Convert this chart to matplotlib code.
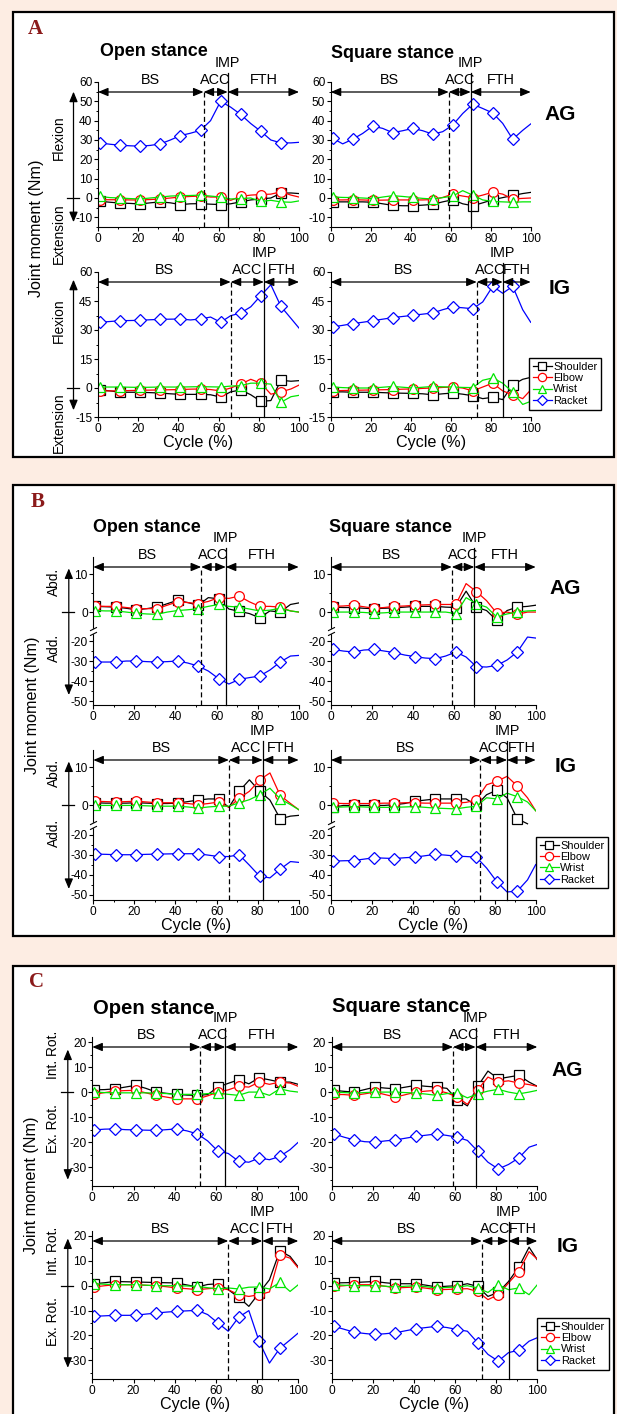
import numpy as np
import matplotlib
matplotlib.use("Agg")
import matplotlib.pyplot as plt
from matplotlib import font_manager as fm
from matplotlib import transforms
from matplotlib.patches import Rectangle
from matplotlib.path import Path

# fonts: a narrow sans looks closest to the original
_names = {f.name for f in fm.fontManager.ttflist}
if "Liberation Sans Narrow" in _names:
    SANS, FS = "Liberation Sans Narrow", 1.0
else:
    SANS, FS = "Liberation Sans", 0.86
plt.rcParams["font.family"] = [SANS, "DejaVu Sans"]
plt.rcParams["axes.unicode_minus"] = False

# ---------------- data (cycle %, joint moment Nm) ----------------
X = [1, 6, 11, 16, 21, 26, 31, 36, 41, 46, 51, 56, 61, 66, 71, 76, 81, 86, 91, 96, 100]
NAMES = ["Shoulder", "Elbow", "Wrist", "Racket"]

# A : flexion / extension
a_open_ag_sho = [-1.7, -2.2, -2.6, -2.8, -3.1, -2.5, -2.0, -2.5, -3.4, -3.0, -2.9, -3.2, -3.4, -3.0, -2.0, -1.0, -0.5, 0.0, 2.5, 2.6, 2.3]
a_open_ag_elb = [-0.9, -0.9, -0.9, -1.0, -1.0, -0.8, -0.5, 0.0, 0.5, 0.8, 1.0, 0.5, 0.5, -1.2, 0.8, 1.5, 1.8, 2.0, 3.2, 1.5, 0.5]
a_open_ag_wri = [0.8, 0.2, 0.0, -0.3, -0.5, 0.0, 0.5, 1.0, 1.2, 1.3, 1.5, 1.0, 0.5, -0.5, -0.3, 0.0, -1.8, -1.2, -2.0, -2.2, -1.5]
a_open_ag_rac = [28.5, 27.8, 27.3, 27.0, 26.8, 27.2, 28.0, 30.0, 32.3, 33.5, 35.0, 40.0, 50.0, 47.0, 43.2, 38.5, 34.5, 30.0, 28.5, 28.5, 28.8]

a_sq_ag_sho = [-2.0, -2.0, -2.0, -2.0, -2.2, -3.0, -3.8, -4.0, -4.0, -3.7, -3.3, -2.0, -0.9, -3.0, -4.0, -2.5, -0.9, 0.2, 1.3, 2.3, 2.9]
a_sq_ag_elb = [-1.0, -1.0, -0.9, -1.0, -1.2, -1.1, -1.0, -1.0, -1.0, -1.0, -0.8, 0.3, 2.0, 1.0, 0.2, 1.5, 3.0, 2.0, -0.5, -0.2, 0.0]
a_sq_ag_wri = [0.5, 0.3, 0.2, 0.0, -0.3, 0.5, 1.2, 0.8, 0.3, -0.2, -0.5, 0.2, 1.0, 3.8, 1.5, -1.0, -1.8, -2.0, -2.2, -2.0, -2.0]
a_sq_ag_rac = [30.9, 28.0, 30.4, 33.4, 37.2, 36.0, 33.8, 34.8, 36.0, 34.8, 33.0, 34.3, 37.7, 43.7, 48.5, 46.3, 44.0, 38.6, 30.4, 35.0, 38.3]

a_open_ig_sho = [-1.0, -1.5, -2.2, -2.2, -2.2, -2.4, -2.6, -3.0, -3.3, -3.3, -3.3, -3.5, -4.7, -2.0, -1.0, -3.5, -6.9, -6.5, 4.0, 3.5, 3.8]
a_open_ig_elb = [-1.5, -1.5, -1.5, -1.3, -1.2, -1.1, -1.0, -0.9, -0.8, -0.6, -0.5, -0.8, -1.5, 0.0, 2.0, 4.5, 2.5, -3.2, -2.0, -0.5, 1.5]
a_open_ig_wri = [0.5, 0.5, 0.5, 0.4, 0.3, 0.4, 0.5, 0.5, 0.5, 0.6, 0.7, 0.6, 0.5, 1.0, 1.2, 2.5, 2.5, 2.0, -7.4, -4.5, -3.8]
a_open_ig_rac = [34.0, 34.4, 34.8, 34.9, 35.0, 35.3, 35.5, 35.6, 35.7, 35.2, 35.7, 36.7, 34.0, 37.4, 38.8, 42.0, 47.8, 53.4, 42.2, 36.0, 31.0]

a_sq_ig_sho = [-2.0, -2.0, -2.2, -2.2, -2.2, -2.4, -2.6, -2.7, -2.8, -3.0, -3.5, -3.0, -2.6, -3.2, -4.0, -5.5, -4.8, -6.0, 1.7, 4.5, 5.5]
a_sq_ig_elb = [-1.5, -1.3, -1.2, -1.1, -1.0, -0.9, -0.8, -0.6, -0.5, -0.2, 0.0, 0.3, 0.5, 0.0, -1.5, 0.5, 2.5, -1.5, -3.5, -5.5, -1.0]
a_sq_ig_wri = [0.5, 0.2, 0.0, 0.0, 0.0, 0.4, 0.8, 0.4, 0.0, 0.4, 0.8, 0.6, 0.5, 0.3, 0.2, 4.0, 5.2, 2.5, -2.2, -8.5, -6.9]
a_sq_ig_rac = [31.6, 32.4, 33.3, 34.0, 34.8, 35.6, 36.4, 37.0, 37.6, 38.2, 38.8, 40.5, 41.9, 41.5, 41.0, 44.5, 52.6, 49.0, 52.6, 40.5, 34.0]

# B : abduction / adduction
b_open_ag_sho = [1.5, 1.4, 1.3, 1.0, 0.6, 0.9, 1.3, 2.2, 3.1, 2.5, 1.8, 3.8, 3.5, 0.8, 0.2, -0.4, -1.5, 0.3, 0.0, 2.0, 2.4]
b_open_ag_elb = [1.6, 1.5, 1.5, 1.2, 0.9, 0.9, 0.9, 1.8, 2.7, 2.5, 2.2, 2.8, 3.8, 3.6, 4.2, 2.7, 1.5, 1.5, 1.3, 0.3, 0.0]
b_open_ag_wri = [0.4, 0.3, 0.3, 0.0, -0.3, -0.5, -0.6, 0.0, 0.4, 0.6, 0.9, 1.5, 2.0, 1.5, 1.3, 0.8, 0.3, 0.5, 1.0, 0.3, 0.0]
b_open_ag_rac = [-30.5, -30.5, -30.5, -30.0, -30.0, -30.3, -30.5, -30.3, -30.0, -31.0, -32.5, -35.0, -38.8, -41.5, -39.2, -38.3, -37.5, -34.5, -30.5, -27.5, -27.2]

b_sq_ag_sho = [1.3, 1.2, 1.2, 1.0, 0.9, 1.0, 1.1, 1.3, 1.5, 1.5, 1.5, 1.3, 1.2, 5.5, 1.3, 0.4, -2.2, 0.4, 1.3, 1.5, 1.8]
b_sq_ag_elb = [1.5, 1.6, 1.8, 1.4, 1.0, 1.2, 1.5, 1.6, 1.8, 1.9, 2.0, 2.0, 2.0, 7.5, 5.4, 3.0, -0.3, 0.0, -0.6, 0.0, 0.0]
b_sq_ag_wri = [0.0, 0.0, 0.0, -0.1, -0.3, -0.2, 0.0, 0.0, 0.0, 0.0, 0.0, 0.0, -0.4, 3.8, 2.2, 1.3, -1.3, -0.5, 0.0, 0.3, 0.4]
b_sq_ag_rac = [-24.2, -25.0, -25.5, -24.5, -24.2, -25.0, -25.8, -27.0, -27.8, -28.5, -28.8, -27.5, -25.5, -28.0, -32.8, -33.0, -32.2, -29.5, -25.5, -18.0, -18.5]

b_open_ig_sho = [0.7, 0.6, 0.6, 0.6, 0.7, 0.6, 0.5, 0.5, 0.6, 1.0, 1.4, 1.7, 1.7, -0.5, 3.7, 6.7, 3.7, 1.4, -3.5, -2.8, -2.6]
b_open_ig_elb = [1.1, 1.0, 0.9, 1.0, 1.1, 0.9, 0.7, 0.7, 0.7, 0.5, 0.2, 0.5, 0.9, -0.5, 1.9, 3.7, 6.7, 8.5, 2.6, 0.5, -1.1]
b_open_ig_wri = [0.0, 0.0, 0.0, 0.0, 0.0, -0.1, -0.2, -0.2, -0.2, -0.4, -0.7, -0.4, -0.2, -0.2, 0.7, 1.5, 2.8, 4.5, 1.7, 0.2, -1.1]
b_open_ig_rac = [-29.7, -29.8, -30.0, -30.0, -30.0, -29.8, -29.7, -29.6, -29.5, -29.5, -29.5, -30.2, -30.9, -30.9, -30.0, -35.2, -40.7, -41.5, -37.2, -33.4, -33.8]

b_sq_ig_sho = [-0.5, 0.0, 0.0, 0.0, 0.0, 0.0, 0.2, 0.5, 1.1, 1.4, 1.7, 1.7, 1.7, 1.7, 0.0, 2.8, 4.0, 2.0, -3.5, -4.8]
b_sq_ig_elb = [0.6, 0.5, 0.5, 0.5, 0.5, 0.6, 0.6, 0.7, 0.7, 0.6, 0.6, 0.6, 0.6, 0.8, 1.4, 5.4, 6.3, 7.6, 5.1, 2.0, -1.4]
b_sq_ig_wri = [-0.5, -0.4, -0.3, -0.4, -0.5, -0.5, -0.5, -0.4, -0.3, -0.5, -0.7, -0.8, -0.9, -0.5, -0.2, 2.0, 1.7, 3.2, 2.3, 0.9, -1.4]
b_sq_ig_rac = [-33.2, -33.0, -32.9, -32.2, -31.5, -31.7, -31.9, -31.5, -31.2, -30.5, -29.8, -30.2, -30.7, -30.9, -31.2, -36.6, -43.4, -48.5, -48.1, -42.5, -34.9]

# C : internal / external rotation
c_open_ag_sho = [0.9, 1.0, 1.3, 2.0, 2.7, 1.5, 0.0, -0.5, -0.9, -1.2, -1.3, -1.0, 2.0, 3.5, 4.9, 3.3, 5.7, 4.9, 4.0, 4.0, 3.1]
c_open_ag_elb = [-0.9, -0.2, 0.4, 0.6, 0.7, -0.3, -1.3, -2.0, -2.7, -2.7, -2.7, -1.5, 0.0, 0.9, 2.3, 2.0, 4.0, 3.1, 4.0, 3.6, 2.3]
c_open_ag_wri = [0.0, -0.2, -0.3, -0.3, -0.3, -0.3, -0.4, -0.6, -0.9, -0.9, -0.9, -0.6, -0.4, -0.9, -1.3, 0.0, 0.0, -1.3, 1.3, 0.4, 0.0]
c_open_ag_rac = [-15.1, -14.8, -14.7, -15.0, -15.1, -15.2, -15.3, -15.0, -14.7, -15.5, -16.7, -19.5, -23.6, -24.5, -27.6, -28.0, -26.3, -27.0, -25.7, -23.0, -20.0]

c_sq_ag_sho = [0.7, 0.3, 0.0, 1.0, 2.0, 1.6, 1.3, 2.0, 2.7, 2.3, 2.0, 1.5, -3.0, -5.5, 2.3, 8.4, 5.3, 6.0, 6.7, 4.0, 2.3]
c_sq_ag_elb = [-0.9, -1.0, -1.3, -0.7, 0.0, -1.0, -2.0, -1.0, 0.0, 0.4, 0.7, -0.3, -2.0, -4.9, 0.9, 6.0, 4.0, 4.5, 3.6, 3.0, 2.3]
c_sq_ag_wri = [0.0, -0.2, -0.4, -0.2, 0.0, 0.0, 0.0, -0.2, -0.4, -0.8, -1.3, -0.6, -0.4, -2.3, -0.7, 0.4, 1.1, 0.0, -0.7, 0.0, 0.7]
c_sq_ag_rac = [-16.7, -18.0, -19.1, -19.8, -20.0, -19.5, -19.1, -18.4, -17.7, -17.2, -16.7, -17.3, -18.0, -19.3, -23.6, -28.0, -30.7, -28.9, -26.3, -22.0, -20.9]

c_open_ig_sho = [0.8, 1.2, 1.7, 1.6, 1.5, 1.4, 1.3, 1.2, 1.1, 0.3, -0.5, 0.5, 0.8, -1.6, -4.6, -8.3, -2.9, 2.4, 14.0, 11.8, 7.5]
c_open_ig_elb = [-0.5, 0.0, 0.4, 0.4, 0.4, 0.2, 0.0, -0.4, -0.9, -1.2, -1.6, -1.2, -0.9, -1.6, -3.6, -4.3, -3.6, -2.5, 12.4, 11.1, 7.1]
c_open_ig_wri = [0.8, 0.6, 0.4, 0.4, 0.4, 0.2, 0.0, 0.0, 0.0, -0.1, -0.3, -0.8, -1.3, -0.9, -1.3, -0.6, -0.5, -1.3, 1.3, -2.3, 0.4]
c_open_ig_rac = [-12.3, -12.1, -11.9, -11.9, -11.9, -11.4, -11.0, -10.6, -10.3, -10.1, -9.9, -11.6, -15.0, -18.3, -12.7, -10.0, -22.4, -31.1, -25.2, -21.8, -19.0]

c_sq_ig_sho = [1.1, 1.2, 1.3, 1.5, 1.7, 1.2, 0.8, 0.8, 0.8, 0.2, -0.5, -0.2, 0.0, 0.8, -0.3, -4.3, -2.7, 1.7, 7.5, 15.5, 10.4]
c_sq_ig_elb = [-0.3, 0.0, 0.4, 0.4, 0.4, -0.2, -0.9, -0.7, -0.5, -1.0, -1.6, -1.5, -1.3, -1.2, -2.3, -5.6, -3.6, 1.1, 5.7, 13.7, 10.7]
c_sq_ig_wri = [0.4, 0.2, 0.0, 0.0, 0.0, -0.2, -0.5, -0.2, 0.0, -0.4, -0.9, -0.7, -0.5, 0.0, -0.9, -2.7, 0.4, -1.6, -0.9, -3.6, 0.4]
c_sq_ig_rac = [-16.3, -17.5, -18.7, -19.2, -19.6, -19.3, -18.9, -18.1, -17.3, -16.8, -16.3, -16.8, -17.6, -18.3, -22.9, -27.6, -30.3, -26.9, -25.9, -22.3, -20.9]

# phase borders (end of BS, impact) for [row][col]
PHASES = [[(52.5, 64.5), (59, 70)], [(66, 82.5), (73, 86)]]

# ---------------- styling ----------------
BG = "#fdede3"
COLORS = ["#000000", "#ff0000", "#00e600", "#0000ff"]
MARKERS = ["s", "o", "^", "D"]
MSIZE = [6.5, 7, 7.5, 6.5]
MARK_IDX = list(range(0, 19, 2))   # markers at 1, 11, ..., 91 %

W, H = 617, 1414
fig = plt.figure(figsize=(W / 100, H / 100), dpi=100)
fig.patch.set_facecolor(BG)
# pixel coordinates (origin top-left) -> figure
PX = transforms.Affine2D().scale(1 / W, -1 / H).translate(0, 1) + fig.transFigure

# broken y axis for panel B
K_BRK = 2 / 3.8


def brk_fwd(y):
    y = np.asarray(y, dtype=float)
    out = np.where(y >= -5, y, np.where(y <= -15, -5 + (y + 15) * K_BRK, -5.0))
    return np.where(np.isnan(y), np.nan, out)


def brk_inv(t):
    t = np.asarray(t, dtype=float)
    return np.where(t >= -5, t, (t + 5) / K_BRK - 15)


BREAK_MARK = Path([(-1, -1.2), (1, -0.2), (-1, 0.2), (1, 1.2)],
                  [Path.MOVETO, Path.LINETO, Path.MOVETO, Path.LINETO])

PANELS = [
    dict(letter="A", rect=(13, 12, 613.5, 456.5), lpos=(35.5, 29), ylab=(37, 228),
         cols=[(98, 299), (330.7, 530.7)], rows=[(82, 227), (272, 417)],
         ylim=[(-15, 60), (-15, 60)],
         yticks=[list(range(-10, 61, 10)), list(range(-15, 61, 15))],
         yminor=[list(range(-15, 60, 10)), [-7.5, 7.5, 22.5, 37.5, 52.5]],
         arrows=[(55, -12.5), (56, -11.5)], dlab=("Flexion", "Extension"),
         dlab_y=[(31, -18.5), (35, -17.7)],
         titles=[(100, 52), (331, 53)], tsize=15,
         groups=[(560, 115), (559.5, 289)], legend=(529, 358), broken=False,
         data=[[[a_open_ag_sho, a_open_ag_elb, a_open_ag_wri, a_open_ag_rac],
                [a_sq_ag_sho, a_sq_ag_elb, a_sq_ag_wri, a_sq_ag_rac]],
               [[a_open_ig_sho, a_open_ig_elb, a_open_ig_wri, a_open_ig_rac],
                [a_sq_ig_sho, a_sq_ig_elb, a_sq_ig_wri, a_sq_ig_rac]]]),
    dict(letter="B", rect=(13, 485, 613.5, 936), lpos=(37.5, 502), ylab=(33, 705),
         cols=[(93.3, 298.7), (331, 535.7)], rows=[(557, 705), (750, 900)],
         ylim=[(-52, 14.5), (-52.5, 14.5)],
         yticks=[[-50, -40, -30, -20, 0, 10]] * 2,
         yminor=[[-45, -35, -25, 5]] * 2,
         arrows=[(11.5, -47), (11.5, -47)], dlab=("Abd.", "Add."),
         dlab_y=[(8, -23.5), (8.6, -19)],
         titles=[(93, 527), (329, 527)], tsize=15,
         groups=[(565.5, 589), (566, 767)], legend=(536, 836.7), broken=True,
         data=[[[b_open_ag_sho, b_open_ag_elb, b_open_ag_wri, b_open_ag_rac],
                [b_sq_ag_sho, b_sq_ag_elb, b_sq_ag_wri, b_sq_ag_rac]],
               [[b_open_ig_sho, b_open_ig_elb, b_open_ig_wri, b_open_ig_rac],
                [b_sq_ig_sho, b_sq_ig_elb, b_sq_ig_wri, b_sq_ig_rac]]]),
    dict(letter="C", rect=(13, 966, 613.5, 1420), lpos=(36, 982), ylab=(32, 1185),
         cols=[(92.3, 298.3), (331.7, 537.3)], rows=[(1037, 1186), (1231, 1379)],
         ylim=[(-37.5, 22), (-37.5, 22)],
         yticks=[list(range(-30, 21, 10))] * 2,
         yminor=[list(range(-35, 21, 10))] * 2,
         arrows=[(17, -35), (19, -33)], dlab=("Int. Rot.", "Ex. Rot."),
         dlab_y=[(14.8, -14.4), (14, -14.4)],
         titles=[(93, 1008), (332, 1007)], tsize=17,
         groups=[(567.5, 1071), (568, 1247)], legend=(536.7, 1318), broken=False,
         data=[[[c_open_ag_sho, c_open_ag_elb, c_open_ag_wri, c_open_ag_rac],
                [c_sq_ag_sho, c_sq_ag_elb, c_sq_ag_wri, c_sq_ag_rac]],
               [[c_open_ig_sho, c_open_ig_elb, c_open_ig_wri, c_open_ig_rac],
                [c_sq_ig_sho, c_sq_ig_elb, c_sq_ig_wri, c_sq_ig_rac]]]),
]

ARROW = dict(arrowstyle="<|-|>,head_length=0.6,head_width=0.25", mutation_scale=10,
             color="black", lw=0.9, shrinkA=0, shrinkB=0)


def phase_marks(ax, acc, imp, hpx):
    tr = transforms.blended_transform_factory(ax.transData, ax.transAxes)
    ya = 1 - 10 / hpx
    for a, b in [(0, acc), (acc, imp), (imp, 100)]:
        ax.annotate("", xy=(a, ya), xytext=(b, ya), xycoords=tr, textcoords=tr,
                    arrowprops=ARROW, annotation_clip=False)
    for txt, xc in [("BS", acc / 2), ("ACC", (acc + imp) / 2), ("FTH", (imp + 100) / 2)]:
        ax.text(xc, 1 + 2 / hpx, txt, transform=tr, ha="center", va="center",
                fontsize=12 * FS)
    ax.text(imp, 1 + 19 / hpx, "IMP", transform=tr, ha="center", va="center",
            fontsize=12 * FS)
    ax.plot([acc, acc], [0, ya], transform=tr, color="black", lw=0.9,
            ls=(0, (4, 2.5)), clip_on=False)
    ax.plot([imp, imp], [0, 1 + 9 / hpx], transform=tr, color="black", lw=0.9,
            clip_on=False)


def direction_marks(ax, wpx, y_up, y_dn, labels, lab_y):
    tr = transforms.blended_transform_factory(ax.transAxes, ax.transData)
    xa = -24.5 / wpx
    ax.annotate("", xy=(xa, y_up), xytext=(xa, y_dn), xycoords=tr, textcoords=tr,
                arrowprops=ARROW, annotation_clip=False)
    ax.plot([-31 / wpx, -19 / wpx], [0, 0], transform=tr, color="black", lw=0.9,
            clip_on=False)
    for txt, yy in zip(labels, lab_y):
        ax.text(-39 / wpx, yy, txt, transform=tr, rotation=90, ha="center",
                va="center", fontsize=11.5 * FS)


for P in PANELS:
    x0, y0, x1, y1 = P["rect"]
    fig.add_artist(Rectangle((x0, y0), x1 - x0, y1 - y0, transform=PX, facecolor="white",
                             edgecolor="black", lw=1.6, zorder=-5))
    fig.text(*P["lpos"], P["letter"], transform=PX, ha="center", va="center",
             fontsize=15, fontweight="bold", family="Liberation Serif", color="#8b1a1a")
    fig.text(*P["ylab"], "Joint moment (Nm)", transform=PX, rotation=90, ha="center",
             va="center", fontsize=13.5 * FS)
    for (tx, ty), title in zip(P["titles"], ["Open stance", "Square stance"]):
        fig.text(tx, ty, title, transform=PX, ha="left", va="center",
                 fontsize=P["tsize"] * FS, fontweight="bold")
    for (gx, gy), grp in zip(P["groups"], ["AG", "IG"]):
        fig.text(gx, gy, grp, transform=PX, ha="center", va="center",
                 fontsize=17.5 * FS, fontweight="bold")

    for r, (ry0, ry1) in enumerate(P["rows"]):
        for c, (cx0, cx1) in enumerate(P["cols"]):
            ax = fig.add_axes([cx0 / W, 1 - ry1 / H, (cx1 - cx0) / W, (ry1 - ry0) / H])
            ax.set_facecolor("none")
            if P["broken"]:
                ax.set_yscale("function", functions=(brk_fwd, brk_inv))
            for s in ("top", "right"):
                ax.spines[s].set_visible(False)
            for s in ("left", "bottom"):
                ax.spines[s].set_linewidth(0.8)

            for ys, name, col, mk, ms in zip(P["data"][r][c], NAMES, COLORS, MARKERS, MSIZE):
                ax.plot(X[:len(ys)], ys, color=col, lw=0.9, marker=mk, ms=ms,
                        mfc="white", mec=col, mew=0.9, markevery=MARK_IDX, label=name)

            ax.set_xlim(0, 100)
            ax.set_ylim(*P["ylim"][r])
            ax.set_xticks(range(0, 101, 20))
            ax.set_xticks(range(10, 100, 20), minor=True)
            ax.set_yticks(P["yticks"][r])
            ax.set_yticklabels([str(t) for t in P["yticks"][r]])
            ax.set_yticks(P["yminor"][r], minor=True)
            ax.tick_params(which="major", direction="out", length=3, width=0.8,
                           labelsize=10 * FS, pad=1)
            ax.tick_params(which="minor", direction="out", length=1.6, width=0.7)

            hpx, wpx = ry1 - ry0, cx1 - cx0
            acc, imp = PHASES[r][c]
            phase_marks(ax, acc, imp, hpx)

            if c == 0:
                y_up, y_dn = P["arrows"][r]
                direction_marks(ax, wpx, y_up, y_dn, P["dlab"], P["dlab_y"][r])
            if r == 1:
                ax.set_xlabel("Cycle (%)", fontsize=13.5 * FS, labelpad=0)
            if P["broken"]:
                trb = transforms.blended_transform_factory(ax.transAxes, ax.transData)
                ax.plot([0], [-10], transform=trb, marker="s", ms=3, mfc="white",
                        mec="white", clip_on=False, zorder=4)
                ax.plot([0], [-10], transform=trb, marker=BREAK_MARK, ms=6, mec="black",
                        mew=0.8, clip_on=False, zorder=5)
            if r == 1 and c == 1:
                lx, ly = P["legend"]
                leg = ax.legend(loc="upper left", bbox_to_anchor=(lx / W, 1 - ly / H),
                                bbox_transform=fig.transFigure, fontsize=9.2 * FS,
                                frameon=True, fancybox=False, edgecolor="black",
                                framealpha=1, borderpad=0.35, labelspacing=0.12,
                                handlelength=1.7, handletextpad=0.15, borderaxespad=0,
                                markerscale=0.85)
                leg.get_frame().set_linewidth(1.0)

fig.savefig("out.png", dpi=100, facecolor=BG)
